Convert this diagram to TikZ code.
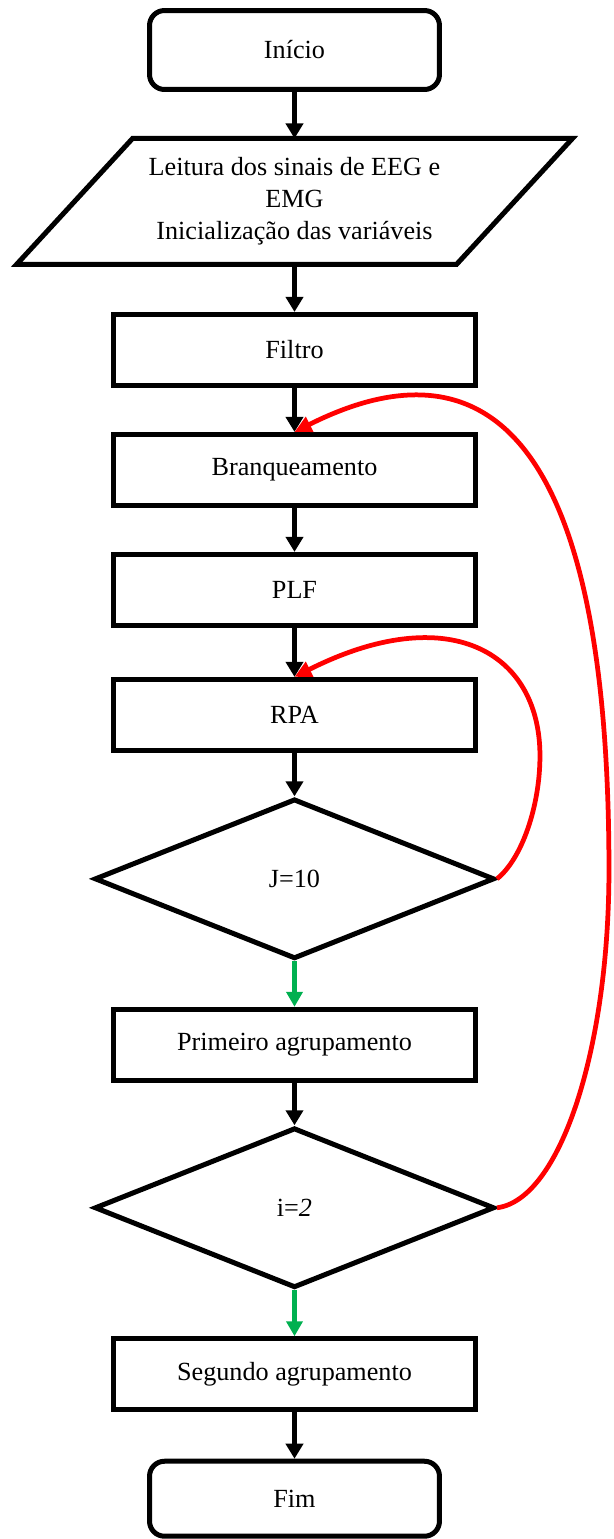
\documentclass[tikz,border=0pt]{standalone}
\usepackage{fontspec}
\setmainfont{Liberation Serif}
\usepackage{tikz}
\usetikzlibrary{positioning, arrows.meta, shapes.geometric}
\tikzset{>={Triangle[length=3mm,width=3.4mm]}}
\definecolor{loopred}{RGB}{255,0,0}
\definecolor{yesgreen}{RGB}{0,176,80}

\begin{document}
\begin{tikzpicture}
    [x=0.02cm, y=-0.02cm, line width=1mm, on grid,
     every node/.style={font=\fontsize{14.9}{18.2}\selectfont, align=center, inner sep=2pt},
     terminal/.style={draw, rounded corners=3mm, minimum width=5.8cm, minimum height=1.58cm},
     process/.style={draw, minimum width=7.24cm, minimum height=1.42cm},
     decision/.style={draw, diamond, minimum width=8cm, minimum height=3.2cm, inner sep=0pt},
     io/.style={outer sep=0pt, minimum width=8.8cm, minimum height=2.52cm},
     flow/.style={->},
     yes/.style={-{Triangle[length=3mm,width=3.2mm]}, line width=0.85mm, yesgreen},
     back/.style={-{Triangle[length=3.4mm,width=3.2mm]}, line width=0.95mm, loopred}]
    \useasboundingbox (0,0) rectangle (613,1539);

    \node[terminal] (inicio) at (294.5,50) {Início};
    \node[io, below=3.03cm of inicio] (leitura) {Leitura dos sinais de EEG e\\EMG\\Inicialização das variáveis};
    \draw ([xshift=1.16cm]leitura.north west) -- ([xshift=1.16cm]leitura.north east)
       -- ([xshift=-1.16cm]leitura.south east) -- ([xshift=-1.16cm]leitura.south west) -- cycle;

    \node[process, below=2.97cm of leitura] (filtro) {Filtro};
    \node[process, below=2.4cm of filtro] (branq) {Branqueamento};
    \node[process, below=2.4cm of branq] (plf) {PLF};
    \node[process, below=2.5cm of plf] (rpa) {RPA};
    \node[decision, below=3.28cm of rpa] (j) {J=10};
    \node[process, below=3.32cm of j] (prim) {Primeiro agrupamento};
    \node[decision, below=3.26cm of prim] (i) {i=\textit{2}};
    \node[process, below=3.33cm of i] (seg) {Segundo agrupamento};
    \node[terminal, minimum height=1.5cm, below=2.49cm of seg] (fim) {Fim};

    \draw[flow] (inicio.south) -- (leitura.north);
    \draw[flow] (leitura.south) -- (filtro.north);
    \draw[flow] (filtro.south) -- (branq.north);
    \draw[flow] (branq.south) -- (plf.north);
    \draw[flow] (plf.south) -- (rpa.north);
    \draw[flow] (rpa.south) -- (j.north);
    \draw[yes] (j.south) -- (prim.north);
    \draw[flow] (prim.south) -- (i.north);
    \draw[yes] (i.south) -- (seg.north);
    \draw[flow] (seg.south) -- (fim.north);

    % loops back
    \coordinate (jbend) at ([shift={(43,-123)}]j.east);
    \draw[back] (j.east) .. controls +(25,-20) and +(0,50) .. (jbend)
        .. controls +(0,-105) and +(153,-77) .. (rpa.north);
    \coordinate (ibend) at ([shift={(112,-338)}]i.east);
    \draw[back] (i.east) .. controls +(63,-8) and +(0,180) .. (ibend)
        .. controls +(0,-450) and +(183,-92) .. (branq.north);
\end{tikzpicture}
\end{document}
